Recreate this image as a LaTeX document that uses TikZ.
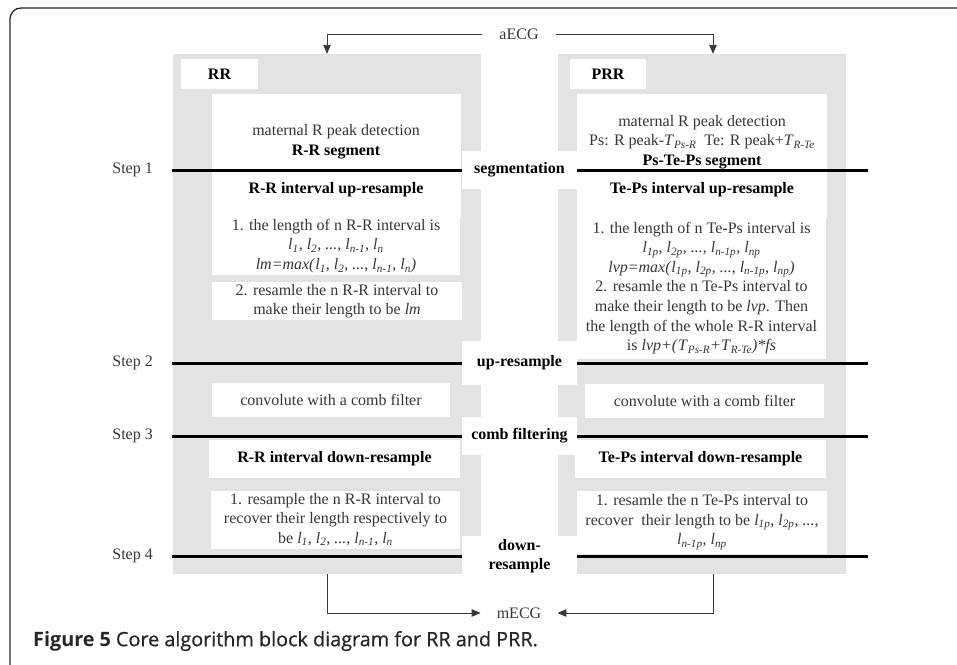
\documentclass[tikz,border=0pt]{standalone}
\usepackage{fontspec}
\setmainfont{Liberation Serif}
\newfontfamily\capfont{Open Sans}
\newfontfamily\capmid{Open Sans}[FakeBold=0.6]
\usetikzlibrary{positioning,arrows.meta,calc}
\definecolor{panel}{RGB}{227,227,227}
\definecolor{ink}{RGB}{55,55,55}
\newcommand{\dfont}{\fontsize{16}{19.6}\selectfont}
\tikzset{
  panelbox/.style={fill=panel, minimum height=520, inner sep=0pt},
  wbox/.style={fill=white, inner sep=0pt, align=center, text=ink, font=\dfont},
  txt/.style={align=center, text=ink, inner sep=0pt, font=\dfont},
  hd/.style={align=center, text=black, inner sep=0pt, font=\dfont\bfseries},
  hdbox/.style={wbox, font=\dfont\bfseries, text=black},
  stage/.style={hdbox, minimum width=115},
  stepline/.style={line width=3pt, black},
  arr/.style={-{Triangle[length=9pt, width=7.5pt]}, line width=0.9pt, ink},
}
\newcommand{\lsub}[2]{\textit{#1}\textsubscript{\itshape #2}}

\begin{document}
\begin{tikzpicture}[x=1pt, y=-1pt]
\useasboundingbox (0,0) rectangle (957,664);
\draw[line width=1.3pt, rounded corners=11pt, black!85] (10,8) rectangle (980,690);
% two grey columns
\node[panelbox, minimum width=308] (rr) at (327,314) {};
\node[panelbox, minimum width=288] (prr) at (702,314) {};
\node[hdbox, minimum width=77, minimum height=30] (rrl) at (219.5,74) {RR};
\node[hdbox, minimum width=76, minimum height=30] (prrl) at (608,74) {PRR};
% RR column
\node[wbox, minimum width=249, minimum height=124] (rr1) at (336,156) {};
\node[txt] (rr1a) at (336,141.5) {maternal R peak detection\\\textbf{\color{black}R-R segment}};
\node[hd] (rr1b) at (336,190) {R-R interval up-resample};
\node[wbox, minimum width=248, minimum height=57] (rr2) at (336,246) {1. the length of n R-R interval is\\
  \lsub{l}{1}, \lsub{l}{2}, \textit{...}, \lsub{l}{n-1}, \lsub{l}{n}\\
  \textit{lm=max(}\lsub{l}{1}, \lsub{l}{2}, \textit{...}, \lsub{l}{n-1}, \lsub{l}{n}\textit{)}};
\node[wbox, minimum width=250, minimum height=38] (rr3) at (337,301) {2. resamle the n R-R interval to\\make their length to be \textit{lm}};
\node[wbox, minimum width=238, minimum height=34] (rr4) at (331,400) {convolute with a comb filter};
\node[hdbox, minimum width=251, minimum height=38] (rr5) at (334.5,459) {R-R interval down-resample};
\node[wbox, minimum width=249, minimum height=58] (rr6) at (335.5,519.5) {1. resample the n R-R interval to\\recover their length respectively to\\
  be \lsub{l}{1}, \lsub{l}{2}, \textit{...}, \lsub{l}{n-1}, \lsub{l}{n}};
% PRR column
\node[wbox, minimum width=250, minimum height=124] (prr1) at (702,156) {};
\node[txt] (prr1a) at (702,142) {maternal R peak detection\\
  Ps: R peak-\lsub{T}{Ps-R}\ \ Te: R peak+\lsub{T}{R-Te}\\\textbf{\color{black}Ps-Te-Ps segment}};
\node[hd] (prr1b) at (702,190) {Te-Ps interval up-resample};
\node[wbox, minimum width=249, minimum height=142] (prr2) at (701.5,288) {1. the length of n Te-Ps interval is\\
  \lsub{l}{1p}, \lsub{l}{2p}, \textit{...}, \lsub{l}{n-1p}, \lsub{l}{np}\\
  \textit{lvp=max(}\lsub{l}{1p}, \lsub{l}{2p}, \textit{...}, \lsub{l}{n-1p}, \lsub{l}{np}\textit{)}\\
  2. resamle the n Te-Ps interval to\\make their length to be \textit{lvp}. Then\\
  the length of the whole R-R interval\\is \textit{lvp+(}\lsub{T}{Ps-R}\textit{+}\lsub{T}{R-Te}\textit{)*fs}};
\node[wbox, minimum width=239, minimum height=34] (prr4) at (704.5,401) {convolute with a comb filter};
\node[hdbox, minimum width=251, minimum height=38] (prr5) at (700.5,459) {Te-Ps interval down-resample};
\node[wbox, minimum width=250, minimum height=63] (prr6) at (702,522) {1. resamle the n Te-Ps interval to\\
  recover\ \ their length to be \lsub{l}{1p}, \lsub{l}{2p}, \textit{...},\\\lsub{l}{n-1p}, \lsub{l}{np}};
% stage names in the middle
\node[stage, minimum height=38] (seg) at (519.5,170) {segmentation};
\node[stage, minimum height=44] (up) at (519.5,363) {up-resample};
\node[stage, minimum height=38] (comb) at (519.5,436) {comb filtering};
\node[stage, minimum height=40] (down) at (519.5,556) {down-\\resample};
% step lines
\coordinate (s1a) at (172,170); \coordinate (s1b) at (868,170);
\coordinate (s2a) at (172,363); \coordinate (s2b) at (868,363);
\coordinate (s3a) at (172,436); \coordinate (s3b) at (868,436);
\coordinate (s4a) at (172,556); \coordinate (s4b) at (868,556);
\node[txt, left=19pt of s1a] (st1) {Step 1};
\node[txt, left=19pt of s2a] (st2) {Step 2};
\node[txt, left=19pt of s3a] (st3) {Step 3};
\node[txt, left=19pt of s4a] (st4) {Step 4};
\draw[stepline] (s1a) -- (seg.west); \draw[stepline] (seg.east) -- (s1b);
\draw[stepline] (s2a) -- (up.west); \draw[stepline] (up.east) -- (s2b);
\draw[stepline] (s3a) -- (comb.west); \draw[stepline] (comb.east) -- (s3b);
\draw[stepline] (s4a) -- (down.west); \draw[stepline] (down.east) -- (s4b);
% input and output
\node[txt] (aecg) at (519,34) {aECG};
\node[txt] (mecg) at (519,613) {mECG};
\draw[arr] ([xshift=-17pt]aecg.west) -| (rr.north);
\draw[arr] ([xshift=17pt]aecg.east) -| ($(prr.north)+(11,0)$);
\draw[arr] (rr.south) |- ([xshift=-16pt]mecg.west);
\draw[arr] ($(prr.south)+(11,0)$) |- ([xshift=16pt]mecg.east);
% caption
\node[anchor=west, inner sep=0pt, text=black!85, font=\fontsize{19.8}{22}\selectfont] (cap) at (33,641)
  {{\capfont\bfseries Figure 5} {\capmid\mdseries Core algorithm block diagram for RR and PRR.}};
\end{tikzpicture}
\end{document}
